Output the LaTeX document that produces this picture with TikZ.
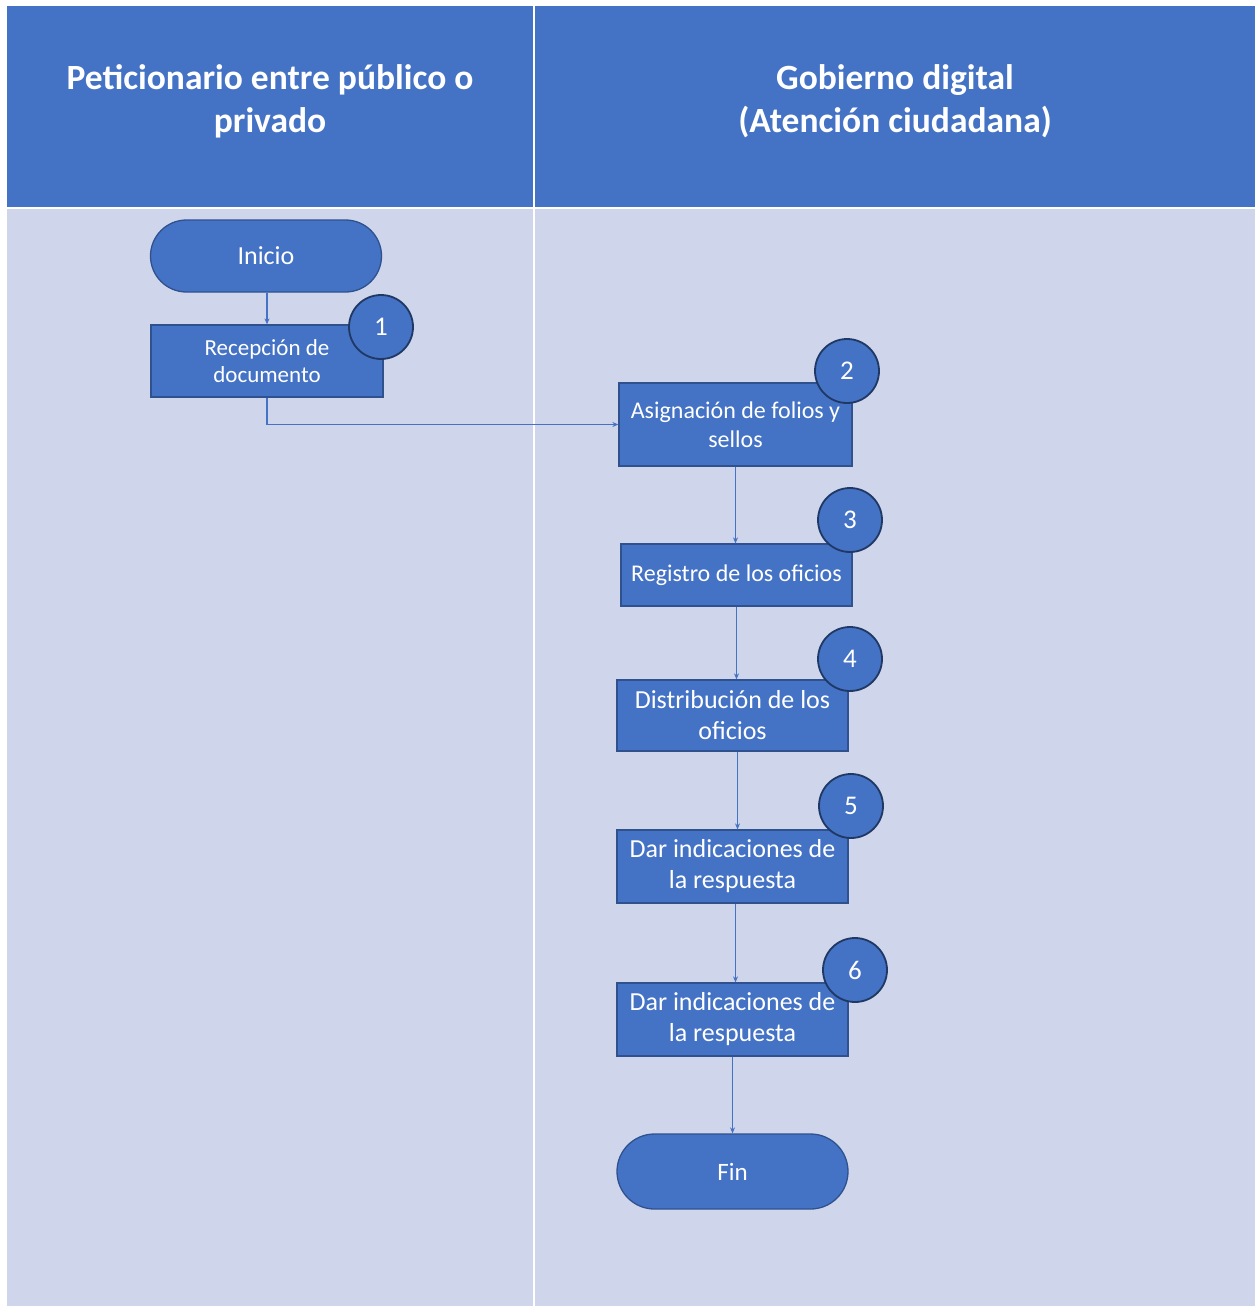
\documentclass[tikz,border=0pt]{standalone}
\usepackage{fontspec}
\setmainfont{Carlito}
\usetikzlibrary{arrows.meta,shapes.misc}
\definecolor{hdr}{HTML}{4472C4}
\definecolor{bodyc}{HTML}{CFD5EA}
\definecolor{boxline}{HTML}{2F528F}
\definecolor{circline}{HTML}{1F3864}
\begin{document}
\begin{tikzpicture}[x=1pt,y=-1pt,
  lanehead/.style={fill=hdr,draw=white,line width=1.2pt},
  lanebody/.style={fill=bodyc,draw=white,line width=1.2pt},
  headtext/.style={text=white,font=\fontsize{35.5}{43}\selectfont\bfseries,align=center},
  procbox/.style={rectangle,fill=hdr,draw=boxline,line width=1.3pt,text=white,align=center,inner sep=0pt},
  terminal/.style={rounded rectangle,fill=hdr,draw=boxline,line width=1.3pt,text=white,inner sep=0pt,font=\fontsize{26}{30}\selectfont},
  numcirc/.style={circle,fill=hdr,draw=circline,line width=1.8pt,text=white,minimum size=64pt,inner sep=0pt,font=\fontsize{27}{30}\selectfont},
  flow/.style={draw=hdr,line width=1.3pt,-{Stealth[length=6pt,width=5pt]}}
]
\useasboundingbox (0,0) rectangle (1257,1306);
\fill[white] (0,0) rectangle (1257,1306);
% lanes
\draw[lanehead] (6,5) rectangle (534,208);
\draw[lanehead] (534,5) rectangle (1256,208);
\draw[lanebody] (6,208) rectangle (534,1310);
\draw[lanebody] (534,208) rectangle (1256,1310);
\node[headtext] (h1) at (270,101) {Peticionario entre público o\\privado};
\node[headtext] (h2) at (895,101) {Gobierno digital\\(Atención ciudadana)};
% nodes
\node[terminal,minimum width=231pt,minimum height=72pt] (ini) at (266,256) {Inicio};
\node[procbox,minimum width=232pt,minimum height=72pt,font=\fontsize{23}{27}\selectfont] (b1) at (267,361) {Recepción de\\documento};
\node[procbox,minimum width=233pt,minimum height=83pt,font=\fontsize{24}{29}\selectfont] (b2) at (735.5,424.5) {Asignación de folios y\\sellos};
\node[procbox,minimum width=231pt,minimum height=62pt,font=\fontsize{24}{29}\selectfont] (b3) at (736.5,575) {Registro de los oficios};
\node[procbox,minimum width=231pt,minimum height=71pt,font=\fontsize{26}{31}\selectfont] (b4) at (732.5,715.5) {Distribución de los\\oficios};
\node[procbox,minimum width=231pt,minimum height=73pt,font=\fontsize{26}{31}\selectfont] (b5) at (732.5,866.5) {Dar indicaciones de\\la respuesta};
\node[procbox,minimum width=231pt,minimum height=73pt,font=\fontsize{26}{31}\selectfont] (b6) at (732.5,1019.5) {Dar indicaciones de\\la respuesta};
\node[terminal,minimum width=231pt,minimum height=75pt,font=\fontsize{25}{30}\selectfont] (fin) at (732.5,1171.5) {Fin};
% number circles
\node[numcirc] (c1) at (381,327) {1};
\node[numcirc] (c2) at (847,371) {2};
\node[numcirc] (c3) at (850,520) {3};
\node[numcirc] (c4) at (850,659) {4};
\node[numcirc] (c5) at (851,806) {5};
\node[numcirc] (c6) at (855,970) {6};
% connectors
\draw[flow] (b1.north |- ini.south) -- (b1.north);
\draw[flow] (b1.south) |- (b2.west);
\draw[flow] (b2.south) -- (b2.south |- b3.north);
\draw[flow] (b3.south) -- (b3.south |- b4.north);
\draw[flow] ([xshift=5pt]b4.south) -- ([xshift=5pt]b4.south |- b5.north);
\draw[flow] ([xshift=3pt]b5.south) -- ([xshift=3pt]b5.south |- b6.north);
\draw[flow] (b6.south) -- (fin.north);
\end{tikzpicture}
\end{document}
